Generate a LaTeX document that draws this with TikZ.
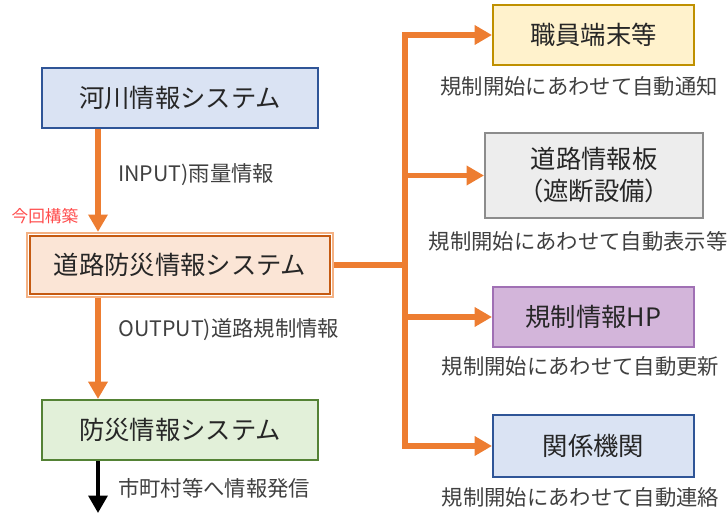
\documentclass[tikz,border=0pt]{standalone}
\usepackage{fontspec}
\setmainfont{Noto Sans CJK JP}
\usetikzlibrary{arrows.meta}

\definecolor{flowor}{HTML}{ED7D31}
\definecolor{darkor}{HTML}{C55A11}
\definecolor{lightor}{HTML}{F4B183}
\definecolor{paleor}{HTML}{FBE5D6}
\definecolor{txtgray}{HTML}{404040}
\definecolor{bluefill}{HTML}{DAE3F3}
\definecolor{blueline}{HTML}{2F5597}
\definecolor{greenfill}{HTML}{E2F0D9}
\definecolor{greenline}{HTML}{548235}
\definecolor{yelfill}{HTML}{FFF2CC}
\definecolor{yelline}{HTML}{BF9000}
\definecolor{grayfill}{HTML}{EDEDED}
\definecolor{grayline}{HTML}{8C8C8C}
\definecolor{purfill}{HTML}{D3B5DA}
\definecolor{purline}{HTML}{A070B4}

\tikzset{
  sysbox/.style={shape=rectangle,draw,line width=1.5pt,text=black!85,
    font=\fontsize{19}{24}\selectfont,align=center,inner sep=0pt},
  caption/.style={text=txtgray,font=\fontsize{16}{19}\selectfont,inner sep=0pt},
  flow/.style={draw=flowor,line width=3.8pt,-{Triangle[length=13pt,width=14pt]}},
}

\begin{document}
\begin{tikzpicture}[x=0.75pt,y=-0.75pt]
\useasboundingbox (0,0) rectangle (728,513);
\coordinate (lane) at (98,0);
\coordinate (jn) at (405,265);
\coordinate (out) at (98,513);

\path (180,98) node (river) [sysbox,minimum width=207pt,minimum height=45pt,draw=blueline,fill=bluefill] {河川情報システム};
\path (180,265) node (road) [sysbox,minimum width=225pt,minimum height=43.5pt,draw=darkor,line width=2.2pt,fill=paleor] {道路防災情報システム};
\draw[lightor,line width=1pt] (27,233) rectangle (333,297);
\path (180,430) node (disaster) [sysbox,minimum width=207pt,minimum height=45pt,draw=greenline,fill=greenfill] {防災情報システム};

\path (593.5,35) node (terminal) [sysbox,minimum width=150.75pt,minimum height=45pt,draw=yelline,fill=yelfill] {職員端末等};
\path (594,175.5) node (board) [sysbox,minimum width=163.5pt,minimum height=63.75pt,draw=grayline,fill=grayfill] {道路情報板\\（遮断設備）};
\path (593.5,317) node (hp) [sysbox,minimum width=150.75pt,minimum height=45pt,draw=purline,fill=purfill] {規制情報HP};
\path (593.5,446) node (agency) [sysbox,minimum width=150.75pt,minimum height=46.5pt,draw=blueline,fill=bluefill] {関係機関};

\path (118,175) node (input) [caption,anchor=west] {INPUT)雨量情報};
\path (118,330) node (output) [caption,anchor=west] {OUTPUT)道路規制情報};
\path (118,488) node (notify) [caption,anchor=west] {市町村等へ情報発信};
\path (45,216) node (newtag) [text=red!70!white,font=\fontsize{12.5}{15}\selectfont,inner sep=0pt] {今回構築};

\path (579,86) node (cap1) [caption] {規制開始にあわせて自動通知};
\path (578,241) node (cap2) [caption] {規制開始にあわせて自動表示等};
\path (580.5,366) node (cap3) [caption] {規制開始にあわせて自動更新};
\path (580.5,497) node (cap4) [caption] {規制開始にあわせて自動連絡};

\draw [flow] (river.south -| lane) to ([yshift=2pt]road.north -| lane);
\draw [flow] ([yshift=-2pt]road.south -| lane) to (disaster.north -| lane);
\draw [line width=3pt,-{Triangle[length=13pt,width=14pt]}] (disaster.south -| lane) to (out);

\draw [flow,-] ([xshift=2pt]road.east) -- (jn);
\draw [flow] (jn) |- (terminal.west);
\draw [flow] (jn) |- (board.west);
\draw [flow] (jn) |- (hp.west);
\draw [flow] (jn) |- (agency.west);

\end{tikzpicture}
\end{document}
